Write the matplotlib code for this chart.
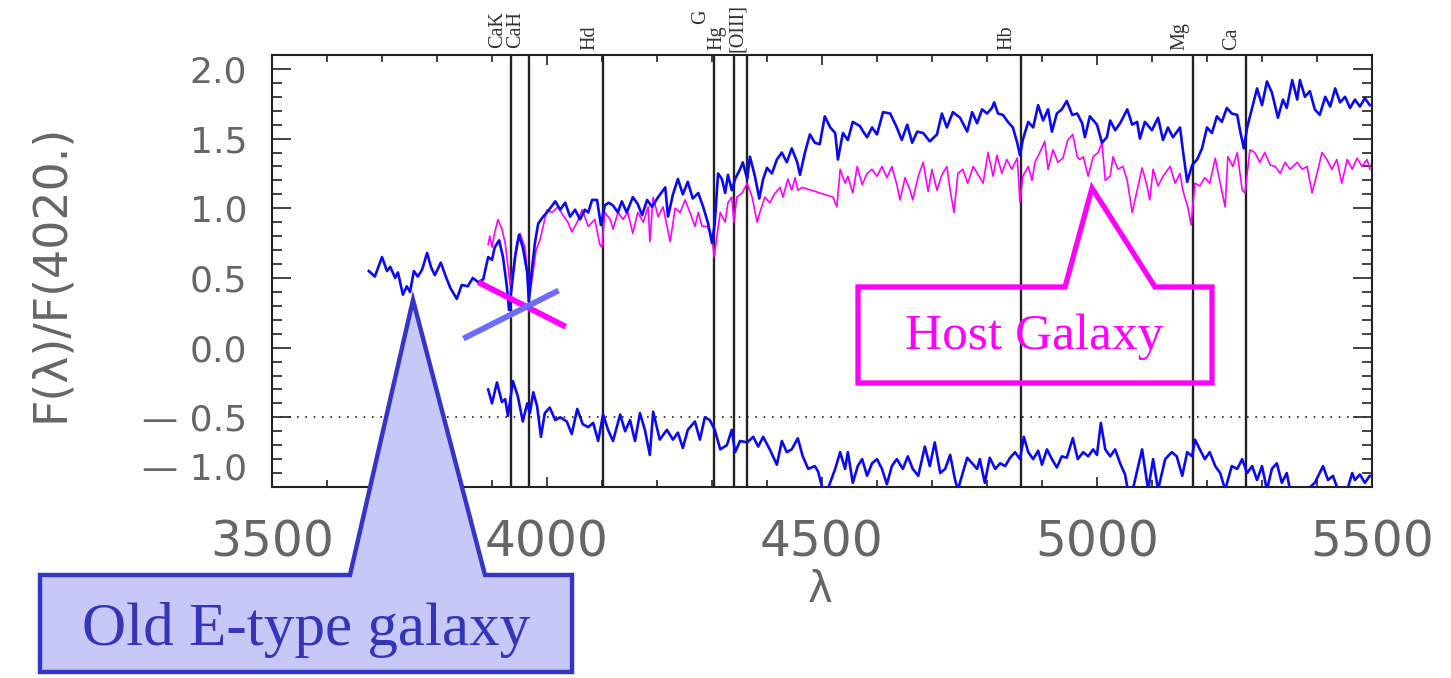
import matplotlib
matplotlib.use("Agg")
import matplotlib.pyplot as plt
from matplotlib.patches import Polygon
from matplotlib.ticker import MultipleLocator

# old E-type galaxy template (upper blue)
etype_wave = [3676, 3687, 3700, 3709, 3715, 3724, 3729, 3738, 3745, 3751, 3758, 3765, 3773, 3782,
              3789, 3796, 3807, 3816, 3824, 3836, 3845, 3856, 3865, 3875, 3884, 3893, 3900, 3905,
              3913, 3920, 3927, 3931, 3936, 3942, 3949, 3956, 3964, 3967, 3972, 3978, 3984, 3993,
              4002, 4015, 4024, 4033, 4042, 4051, 4060, 4069, 4075, 4082, 4091, 4098, 4105, 4112,
              4120, 4129, 4136, 4145, 4156, 4165, 4173, 4182, 4191, 4202, 4215, 4220, 4229, 4238,
              4247, 4256, 4265, 4275, 4284, 4293, 4300, 4305, 4311, 4318, 4324, 4329, 4336, 4342,
              4351, 4356, 4364, 4369, 4378, 4386, 4393, 4400, 4409, 4418, 4427, 4436, 4445, 4455,
              4460, 4469, 4478, 4487, 4496, 4505, 4515, 4524, 4529, 4538, 4547, 4556, 4569, 4575,
              4582, 4591, 4600, 4611, 4624, 4636, 4645, 4655, 4664, 4673, 4684, 4696, 4709, 4718,
              4727, 4738, 4751, 4764, 4773, 4782, 4791, 4800, 4809, 4813, 4820, 4829, 4838, 4847,
              4855, 4860, 4865, 4875, 4884, 4893, 4902, 4911, 4918, 4927, 4936, 4945, 4955, 4964,
              4973, 4978, 4987, 5000, 5009, 5018, 5024, 5033, 5042, 5055, 5064, 5073, 5078, 5087,
              5100, 5111, 5120, 5129, 5138, 5151, 5156, 5164, 5173, 5182, 5191, 5200, 5209, 5218,
              5227, 5236, 5245, 5255, 5260, 5267, 5273, 5282, 5291, 5300, 5309, 5318, 5329, 5338,
              5345, 5355, 5364, 5369, 5378, 5387, 5396, 5405, 5415, 5424, 5433, 5442, 5451, 5460,
              5469, 5478, 5487, 5496]
etype_flux = [0.55, 0.51, 0.65, 0.55, 0.58, 0.50, 0.54, 0.38, 0.44, 0.40, 0.55, 0.51, 0.56, 0.68,
              0.58, 0.52, 0.61, 0.51, 0.43, 0.35, 0.45, 0.44, 0.50, 0.47, 0.49, 0.65, 0.63, 0.72,
              0.77, 0.65, 0.44, 0.27, 0.44, 0.65, 0.81, 0.72, 0.54, 0.33, 0.54, 0.75, 0.89, 0.94,
              0.98, 1.05, 0.99, 1.04, 0.94, 0.99, 0.92, 0.99, 0.97, 1.06, 1.06, 0.88, 1.02, 1.04,
              1.02, 0.97, 1.05, 0.97, 1.08, 1.03, 0.95, 1.06, 1.01, 1.08, 1.15, 0.94, 1.10, 1.21,
              1.10, 1.19, 1.07, 1.11, 1.01, 0.89, 0.75, 0.89, 1.25, 1.21, 1.11, 1.24, 1.13, 1.21,
              1.28, 1.33, 1.21, 1.37, 1.23, 1.07, 1.21, 1.29, 1.25, 1.35, 1.40, 1.33, 1.43, 1.33,
              1.24, 1.40, 1.53, 1.47, 1.46, 1.66, 1.58, 1.54, 1.35, 1.54, 1.49, 1.62, 1.59, 1.55,
              1.51, 1.58, 1.53, 1.69, 1.68, 1.58, 1.49, 1.60, 1.47, 1.55, 1.54, 1.48, 1.53, 1.68,
              1.58, 1.69, 1.65, 1.55, 1.69, 1.61, 1.71, 1.68, 1.72, 1.76, 1.68, 1.67, 1.62, 1.58,
              1.47, 1.38, 1.49, 1.62, 1.58, 1.74, 1.63, 1.71, 1.55, 1.68, 1.71, 1.77, 1.67, 1.68,
              1.61, 1.51, 1.66, 1.60, 1.47, 1.51, 1.63, 1.56, 1.61, 1.71, 1.60, 1.62, 1.50, 1.62,
              1.56, 1.65, 1.49, 1.58, 1.51, 1.58, 1.42, 1.19, 1.31, 1.35, 1.43, 1.58, 1.54, 1.66,
              1.62, 1.72, 1.68, 1.67, 1.56, 1.43, 1.58, 1.72, 1.86, 1.74, 1.91, 1.83, 1.65, 1.78,
              1.72, 1.92, 1.78, 1.92, 1.80, 1.84, 1.71, 1.67, 1.80, 1.73, 1.86, 1.76, 1.80, 1.72,
              1.78, 1.73, 1.79, 1.74]

# host galaxy spectrum (magenta)
host_wave = [3893, 3896, 3900, 3905, 3911, 3918, 3924, 3929, 3933, 3938, 3945, 3951, 3960, 3965,
             3969, 3975, 3980, 3987, 3993, 4000, 4009, 4020, 4029, 4038, 4045, 4055, 4064, 4075,
             4087, 4096, 4100, 4105, 4115, 4120, 4129, 4138, 4147, 4156, 4165, 4175, 4184, 4187,
             4193, 4202, 4211, 4224, 4233, 4242, 4251, 4260, 4269, 4275, 4282, 4291, 4300, 4304,
             4309, 4315, 4324, 4329, 4336, 4340, 4345, 4355, 4364, 4373, 4382, 4387, 4396, 4405,
             4415, 4424, 4429, 4438, 4445, 4451, 4456, 4464, 4520, 4527, 4533, 4542, 4547, 4556,
             4564, 4573, 4582, 4591, 4600, 4609, 4618, 4627, 4636, 4642, 4651, 4660, 4665, 4675,
             4684, 4693, 4700, 4709, 4718, 4727, 4733, 4740, 4747, 4756, 4765, 4775, 4784, 4793,
             4802, 4811, 4818, 4827, 4836, 4845, 4855, 4860, 4865, 4875, 4882, 4887, 4896, 4905,
             4911, 4920, 4929, 4938, 4947, 4956, 4964, 4969, 4975, 4984, 4993, 5002, 5009, 5015,
             5024, 5029, 5038, 5047, 5055, 5064, 5073, 5082, 5091, 5096, 5102, 5111, 5120, 5133,
             5142, 5151, 5156, 5165, 5171, 5178, 5187, 5196, 5205, 5215, 5224, 5233, 5238, 5247,
             5255, 5264, 5269, 5278, 5287, 5296, 5305, 5315, 5324, 5333, 5342, 5351, 5364, 5373,
             5382, 5391, 5400, 5409, 5418, 5427, 5436, 5445, 5455, 5464, 5473, 5482, 5491, 5496]
host_flux = [0.74, 0.80, 0.72, 0.83, 0.92, 0.85, 0.75, 0.58, 0.45, 0.55, 0.75, 0.82, 0.72, 0.51,
             0.39, 0.55, 0.70, 0.77, 0.87, 0.99, 0.97, 1.01, 0.95, 0.90, 0.83, 0.90, 0.99, 0.87,
             0.92, 0.74, 0.72, 0.97, 0.92, 0.85, 0.97, 0.92, 0.97, 0.82, 0.97, 0.90, 1.01, 0.76,
             1.08, 0.94, 1.01, 0.76, 1.00, 0.97, 1.06, 0.97, 0.87, 0.97, 0.87, 0.87, 0.80, 0.65,
             0.80, 0.97, 0.90, 1.04, 1.08, 0.90, 1.08, 1.11, 1.18, 1.08, 0.90, 0.97, 1.08, 1.04,
             1.11, 1.15, 1.08, 1.21, 1.13, 1.22, 1.13, 1.15, 1.08, 1.01, 1.28, 1.18, 1.23, 1.11,
             1.30, 1.17, 1.25, 1.28, 1.23, 1.30, 1.22, 1.30, 1.17, 1.06, 1.22, 1.13, 1.06, 1.23,
             1.33, 1.12, 1.28, 1.13, 1.24, 1.30, 1.13, 0.97, 1.25, 1.28, 1.18, 1.30, 1.24, 1.18,
             1.40, 1.23, 1.38, 1.25, 1.35, 1.28, 1.36, 1.04, 1.23, 1.30, 1.20, 1.33, 1.40, 1.48,
             1.28, 1.42, 1.33, 1.36, 1.49, 1.53, 1.37, 1.35, 1.37, 1.23, 1.37, 1.40, 1.47, 1.20,
             1.23, 1.37, 1.28, 1.30, 1.20, 0.97, 1.13, 1.29, 1.16, 1.06, 1.28, 1.16, 1.23, 1.30,
             1.18, 1.25, 1.13, 1.01, 0.88, 1.18, 1.16, 1.22, 1.18, 1.36, 1.18, 1.01, 1.37, 1.30,
             1.40, 1.13, 1.11, 1.42, 1.40, 1.33, 1.40, 1.31, 1.30, 1.25, 1.33, 1.28, 1.33, 1.28,
             1.30, 1.11, 1.25, 1.40, 1.35, 1.28, 1.35, 1.18, 1.35, 1.28, 1.36, 1.30, 1.35, 1.28]

# residual spectrum (lower blue)
resid_wave = [3893, 3900, 3909, 3918, 3924, 3929, 3938, 3947, 3956, 3964, 3969, 3975, 3982, 3989,
              3996, 4005, 4015, 4024, 4036, 4045, 4055, 4065, 4075, 4084, 4093, 4102, 4111, 4120,
              4133, 4142, 4151, 4160, 4169, 4178, 4187, 4193, 4205, 4218, 4229, 4238, 4247, 4256,
              4269, 4278, 4287, 4296, 4305, 4315, 4327, 4336, 4342, 4351, 4364, 4375, 4384, 4393,
              4405, 4418, 4427, 4436, 4445, 4456, 4465, 4475, 4487, 4493, 4502, 4511, 4524, 4533,
              4542, 4547, 4556, 4565, 4573, 4582, 4591, 4600, 4609, 4618, 4627, 4636, 4647, 4656,
              4665, 4675, 4687, 4696, 4705, 4715, 4724, 4733, 4742, 4747, 4764, 4773, 4782, 4787,
              4796, 4805, 4815, 4824, 4833, 4842, 4851, 4860, 4867, 4875, 4884, 4893, 4900, 4909,
              4918, 4927, 4936, 4945, 4956, 4965, 4975, 4984, 4993, 5000, 5007, 5015, 5024, 5033,
              5042, 5051, 5056, 5065, 5082, 5093, 5102, 5111, 5124, 5136, 5145, 5155, 5164, 5173,
              5178, 5187, 5196, 5205, 5215, 5224, 5233, 5245, 5255, 5264, 5273, 5282, 5291, 5300,
              5309, 5318, 5327, 5336, 5345, 5351, 5382, 5396, 5411, 5420, 5429, 5438, 5455, 5464,
              5469, 5478, 5487, 5496]
resid_flux = [-0.30, -0.40, -0.25, -0.39, -0.37, -0.49, -0.24, -0.35, -0.53, -0.40, -0.47, -0.32,
              -0.42, -0.64, -0.47, -0.43, -0.52, -0.50, -0.53, -0.62, -0.44, -0.55, -0.57, -0.54,
              -0.67, -0.48, -0.59, -0.67, -0.48, -0.60, -0.52, -0.67, -0.47, -0.59, -0.77, -0.46,
              -0.66, -0.59, -0.66, -0.61, -0.72, -0.59, -0.53, -0.66, -0.50, -0.52, -0.59, -0.73,
              -0.70, -0.59, -0.75, -0.67, -0.68, -0.64, -0.71, -0.64, -0.73, -0.84, -0.67, -0.75,
              -0.73, -0.65, -0.78, -0.87, -0.85, -0.89, -1.03, -1.01, -0.87, -0.75, -0.87, -0.75,
              -0.97, -0.85, -0.80, -0.92, -0.83, -0.80, -0.87, -0.98, -0.85, -0.80, -0.87, -0.78,
              -0.87, -0.92, -0.71, -0.85, -0.68, -0.90, -0.87, -0.77, -0.95, -1.02, -0.79, -0.83,
              -0.87, -0.80, -0.97, -0.79, -0.87, -0.83, -0.85, -0.79, -0.75, -0.80, -0.64, -0.75,
              -0.80, -0.74, -0.84, -0.73, -0.80, -0.86, -0.78, -0.79, -0.65, -0.80, -0.75, -0.78,
              -0.73, -0.77, -0.54, -0.73, -0.78, -0.73, -0.83, -0.91, -1.02, -1.02, -0.73, -1.02,
              -0.80, -1.02, -0.80, -0.75, -0.78, -0.92, -0.75, -0.78, -0.66, -0.73, -0.80, -0.75,
              -0.85, -0.90, -1.02, -0.85, -0.87, -0.80, -0.90, -0.85, -0.95, -0.85, -1.02, -0.87,
              -0.83, -0.97, -0.90, -1.02, -1.02, -0.97, -0.85, -0.95, -0.92, -1.02, -1.02, -0.90,
              -0.95, -0.91, -0.97, -0.92]

# absorption features marked on the plot
line_names = ["CaK", "CaH", "Hd", "G", "Hg", "[OIII]", "Hb", "Mg", "Ca"]
line_waves = [3934, 3968, 4102, 4304, 4340, 4363, 4861, 5175, 5270]
label_raise = [7, 7, 5, 31, 5, 3, 5, 5, 5]        # pixels above the frame
label_shift = [-4, -4, -4, -4, -8, 0, -4, -4, -4]  # pixels left of the line

y_ticks = [-1.0, -0.5, 0.0, 0.5, 1.0, 1.5, 2.0]
y_ticklabels = ["\u2014 1.0", "\u2014 0.5", "0.0", "0.5", "1.0", "1.5", "2.0"]
x_ticks = [3500, 4000, 4500, 5000, 5500]

W, H = 1451, 678


def fig_xy(x, y):
    # pixel position (from top-left) -> figure fraction
    return (x / W, 1 - y / H)


fig = plt.figure(figsize=(W / 100, H / 100), dpi=100)
ax = fig.add_axes([272 / W, 1 - 487 / H, (1372 - 272) / W, (487 - 55) / H])

ax.plot(etype_wave, etype_flux, color="#0a0af0", lw=1.9, zorder=3)
ax.plot(host_wave, host_flux, color="#ff00ff", lw=1.2, zorder=2)
ax.plot(resid_wave, resid_flux, color="#0a0af0", lw=1.9, zorder=3)

for lam in line_waves:
    ax.axvline(lam, color="#222222", lw=1.7, zorder=1)
ax.axhline(-0.5, color="#222222", lw=1.2, ls=(0, (1, 4)), zorder=1)

for name, lam, up, dx in zip(line_names, line_waves, label_raise, label_shift):
    ax.annotate(name, xy=(lam, 1), xycoords=("data", "axes fraction"),
                xytext=(dx, up), textcoords="offset pixels", rotation=90,
                ha="right", va="bottom", fontsize=14.5, color="#333333",
                family="Liberation Serif", annotation_clip=False)

# the crossed-out break
ax.plot([3875, 4034], [0.47, 0.15], color="#ff00ff", lw=4.2, zorder=4, solid_capstyle="butt")
ax.plot([3848, 4021], [0.065, 0.41], color="#6b6bff", lw=4.2, zorder=4, solid_capstyle="butt")

ax.set_xlim(3500, 5500)
ax.set_ylim(-1.0, 2.1)
ax.set_xticks(x_ticks)
ax.xaxis.set_minor_locator(MultipleLocator(100))
ax.set_yticks(y_ticks)
ax.yaxis.set_minor_locator(MultipleLocator(0.1))
ax.set_yticklabels(y_ticklabels)
ax.tick_params(which="both", direction="in", top=True, right=True, color="#222222", width=1.2)
ax.tick_params(axis="x", which="major", length=7, pad=23, labelsize=35, labelcolor="#666666")
ax.tick_params(axis="x", which="minor", length=5)
ax.tick_params(axis="y", which="major", length=14, pad=18, labelsize=26, labelcolor="#666666")
ax.tick_params(axis="y", which="minor", length=7)
ax.get_yticklabels()[0].set_va("bottom")
for s in ax.spines.values():
    s.set_color("#222222")
    s.set_linewidth(1.5)

fig.text(*fig_xy(50, 273), "F(\u03bb)/F(4020.)", rotation=90, ha="center", va="center",
         fontsize=33, color="#666666")
fig.text(*fig_xy(820, 590), "\u03bb", ha="center", va="center", fontsize=30, color="#666666")

# callout: old E-type galaxy
etype_box = [(40, 575), (350, 575), (413, 300), (485, 575), (572, 575), (572, 672), (40, 672)]
fig.add_artist(Polygon([fig_xy(x, y) for x, y in etype_box], closed=True,
                       transform=fig.transFigure, facecolor="#c8c8f8",
                       edgecolor="#3535c8", lw=3.2, zorder=10))
fig.text(*fig_xy(306, 630), "Old E-type galaxy", ha="center", va="center", fontsize=44,
         family="Liberation Serif", color="#3535b8", zorder=11)

# callout: host galaxy
host_box = [(858, 287), (1065, 287), (1092, 188), (1155, 287), (1212, 287), (1212, 383), (858, 383)]
fig.add_artist(Polygon([fig_xy(x, y) for x, y in host_box], closed=True,
                       transform=fig.transFigure, facecolor="none",
                       edgecolor="#ff00ff", lw=3.8, zorder=10))
fig.text(*fig_xy(1034, 337), "Host Galaxy", ha="center", va="center", fontsize=37,
         family="Liberation Serif", color="#ff00ff", zorder=11)

fig.savefig("out.png", dpi=100)
